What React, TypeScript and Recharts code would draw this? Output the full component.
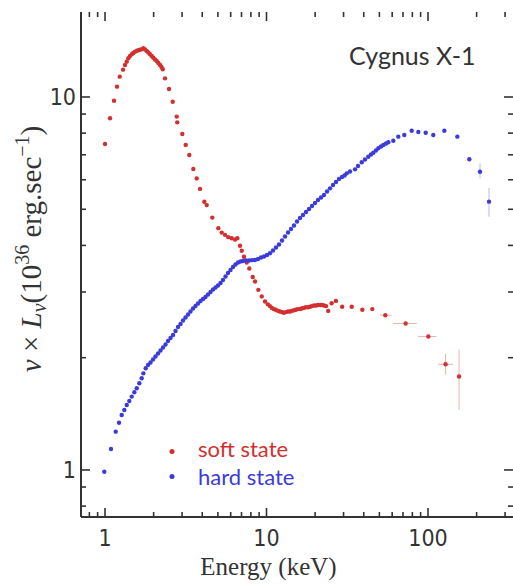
import React from "react";
import { ScatterChart, Scatter, XAxis, YAxis, ErrorBar, Customized } from "recharts";

// ---- data ----
const softE = [1.0, 1.074, 1.137, 1.187, 1.233, 1.293, 1.33, 1.363, 1.394, 1.428, 1.463, 1.497, 1.534, 1.578, 1.623, 1.671, 1.727, 1.769, 1.812, 1.854, 1.899, 1.946, 1.991, 2.04, 2.09, 2.138, 2.191, 2.238, 2.277, 2.353, 2.491, 2.626, 2.78, 2.8, 3.01, 3.16, 3.327, 3.522, 3.697, 3.875, 4.12, 4.263, 4.617, 5.03, 5.28, 5.534, 5.801, 6.09, 6.383, 6.596, 6.853, 7.021, 7.254, 7.54, 7.825, 8.215, 8.489, 8.897, 9.34, 9.789, 10.2, 10.5, 10.8, 11.1, 11.4, 11.8, 12.1, 12.5, 12.8, 13.2, 13.6, 14.0, 14.3, 14.8, 15.2, 15.6, 16.1, 16.5, 17.0, 17.5, 18.1, 18.6, 19.1, 19.7, 20.3, 20.8, 21.5, 22.1, 22.7, 23.4, 24.1, 25.3, 26.9, 29.4, 33.7, 39.2, 45.2, 54.4, 72.7, 100.5, 128.5, 155.7];
const softL = [7.48, 8.77, 9.77, 10.66, 11.34, 11.84, 12.18, 12.44, 12.70, 12.88, 13.02, 13.12, 13.23, 13.30, 13.37, 13.41, 13.51, 13.41, 13.29, 13.17, 13.02, 12.88, 12.75, 12.61, 12.49, 12.34, 12.18, 12.03, 11.87, 11.22, 10.51, 9.71, 8.86, 8.55, 7.96, 7.44, 6.99, 6.41, 6.05, 5.67, 5.24, 5.13, 4.75, 4.45, 4.33, 4.27, 4.21, 4.18, 4.15, 4.18, 3.99, 3.87, 3.73, 3.60, 3.47, 3.29, 3.20, 3.04, 2.92, 2.83, 2.78, 2.75, 2.72, 2.70, 2.69, 2.67, 2.66, 2.65, 2.64, 2.65, 2.66, 2.66, 2.67, 2.68, 2.69, 2.70, 2.70, 2.71, 2.72, 2.73, 2.73, 2.74, 2.75, 2.76, 2.76, 2.77, 2.77, 2.77, 2.76, 2.75, 2.67, 2.80, 2.84, 2.74, 2.74, 2.69, 2.70, 2.60, 2.47, 2.28, 1.92, 1.78];

const hardE = [0.99, 1.089, 1.165, 1.221, 1.269, 1.317, 1.363, 1.414, 1.463, 1.519, 1.572, 1.631, 1.687, 1.727, 1.786, 1.846, 1.913, 1.983, 2.054, 2.129, 2.207, 2.287, 2.37, 2.455, 2.545, 2.637, 2.733, 2.831, 2.935, 3.041, 3.151, 3.266, 3.384, 3.507, 3.634, 3.766, 3.903, 4.045, 4.191, 4.343, 4.501, 4.665, 4.834, 5.009, 5.191, 5.379, 5.574, 5.776, 5.985, 6.203, 6.427, 6.661, 6.902, 7.153, 7.465, 7.793, 8.133, 8.489, 8.86, 9.246, 9.65, 10.07, 10.51, 10.97, 11.45, 11.95, 12.47, 13.02, 13.59, 14.18, 14.8, 15.45, 16.12, 16.83, 17.57, 18.34, 19.13, 19.97, 20.84, 21.76, 22.7, 23.7, 24.73, 25.81, 26.93, 28.11, 29.34, 30.41, 31.38, 32.89, 35.32, 36.87, 38.87, 40.73, 42.69, 44.37, 45.85, 47.64, 49.24, 51.17, 52.88, 54.95, 56.79, 60.97, 65.48, 71.33, 79.27, 87.1, 96.78, 107.8, 126.2, 151.9, 180.2, 209.9, 238.7];
const hardL = [0.989, 1.138, 1.267, 1.339, 1.404, 1.448, 1.494, 1.531, 1.573, 1.616, 1.656, 1.708, 1.762, 1.816, 1.874, 1.912, 1.942, 1.978, 2.015, 2.053, 2.091, 2.13, 2.17, 2.217, 2.259, 2.301, 2.359, 2.417, 2.462, 2.516, 2.563, 2.611, 2.66, 2.71, 2.753, 2.795, 2.839, 2.873, 2.909, 2.954, 3.0, 3.047, 3.085, 3.123, 3.172, 3.231, 3.302, 3.374, 3.437, 3.501, 3.556, 3.6, 3.622, 3.634, 3.645, 3.645, 3.652, 3.656, 3.679, 3.713, 3.736, 3.771, 3.811, 3.878, 3.95, 4.024, 4.124, 4.227, 4.333, 4.426, 4.523, 4.636, 4.737, 4.826, 4.916, 5.008, 5.102, 5.197, 5.295, 5.377, 5.461, 5.579, 5.69, 5.808, 5.916, 6.027, 6.101, 6.157, 6.242, 6.311, 6.398, 6.531, 6.683, 6.799, 6.918, 7.012, 7.091, 7.188, 7.286, 7.368, 7.436, 7.505, 7.561, 7.635, 7.828, 7.908, 8.122, 8.056, 8.021, 7.908, 8.122, 7.828, 6.808, 6.305, 5.241];

// asymmetric error bars [minus, plus], keyed by energy
const softXErr: Record<string, [number, number]> = { "54.4": [4, 5], "72.7": [12, 12.5], "100.5": [13.6, 12.6], "128.5": [13.5, 14.5] };
const softYErr: Record<string, [number, number]> = { "128.5": [0.12, 0.13], "155.7": [0.33, 0.32] };
const hardYErr: Record<string, [number, number]> = { "209.9": [0.25, 0.33], "238.7": [0.47, 0.46] };

const xTicks = [0.8, 0.9, 1, 2, 3, 4, 5, 6, 7, 8, 9, 10, 20, 30, 40, 50, 60, 70, 80, 90, 100, 200, 300];
const xLabels = [1, 10, 100];
const yTicks = [0.8, 0.9, 1, 2, 3, 4, 5, 6, 7, 8, 9, 10];
const yLabels = [1, 10];

const X_DOMAIN: [number, number] = [0.71, 336];
const Y_DOMAIN: [number, number] = [0.748, 16.9];

const softData = softE.map((E, i) => ({ E, L: softL[i], ex: softXErr[String(E)], ey: softYErr[String(E)] }));
const hardData = hardE.map((E, i) => ({ E, L: hardL[i], ey: hardYErr[String(E)] }));

// tick marks placed on the frame edges through the chart's own scales
const bottomTicks = xTicks.map((E) => ({ E, L: Y_DOMAIN[0], major: xLabels.includes(E) }));
const topTicks = xTicks.map((E) => ({ E, L: Y_DOMAIN[1], major: xLabels.includes(E) }));
const leftTicks = yTicks.map((L) => ({ E: X_DOMAIN[0], L, major: yLabels.includes(L) }));
const rightTicks = yTicks.map((L) => ({ E: X_DOMAIN[1], L, major: yLabels.includes(L) }));

const RED = "#d42f2f";
const BLUE = "#3b3bdc";
const AXIS = "#333";
const TICKFONT = "'Liberation Sans Narrow', 'DejaVu Sans Condensed', Lato, sans-serif";

const tickMark = (dx: number, dy: number) => (props: any) => {
  const { cx, cy, payload } = props;
  const len = payload && payload.major ? 9 : 5;
  return <line x1={cx} y1={cy} x2={cx + dx * len} y2={cy + dy * len} stroke={AXIS} strokeWidth={1.6} />;
};

const makeLabel = (side: "bottom" | "left", labels: number[]) => (props: any) => {
  const { x, y, payload } = props;
  const v = payload.value;
  if (!labels.includes(v)) return <g />;
  return side === "bottom" ? (
    <text x={x} y={y + 29} textAnchor="middle" fontFamily={TICKFONT} fontSize={23} fill={AXIS}>{v}</text>
  ) : (
    <text x={x - 5} y={y + 8} textAnchor="end" fontFamily={TICKFONT} fontSize={23} fill={AXIS}>{v}</text>
  );
};

const dot = (color: string) => (props: any) => <circle cx={props.cx} cy={props.cy} r={2.2} fill={color} />;

const Overlay = () => (
  <g>
    <text x={349} y={65} fontFamily="Lato, sans-serif" fontSize={25} fill={AXIS}>Cygnus X-1</text>
    <circle cx={172} cy={451.5} r={2.5} fill={RED} />
    <text x={198} y={456.5} fontFamily="Lato, sans-serif" fontSize={22} fill={RED}>soft state</text>
    <circle cx={172} cy={476.5} r={2.5} fill={BLUE} />
    <text x={198} y={484.5} fontFamily="Lato, sans-serif" fontSize={22} fill={BLUE}>hard state</text>
    <text x={268.5} y={575} textAnchor="middle" fontFamily="'Liberation Serif', serif" fontSize={25} fill={AXIS}>Energy (keV)</text>
    <text transform="rotate(-90, 41, 249)" x={41} y={249} textAnchor="middle" fontFamily="'Liberation Serif', serif" fontSize={29} fill={AXIS}>
      <tspan fontStyle="italic">ν</tspan>
      <tspan>{" × "}</tspan>
      <tspan fontStyle="italic">L</tspan>
      <tspan fontStyle="italic" fontSize={20} dy={5}>ν</tspan>
      <tspan dy={-5}>(10</tspan>
      <tspan fontSize={20} dy={-12}>36</tspan>
      <tspan dy={12}>{" erg.sec"}</tspan>
      <tspan fontSize={20} dy={-12}>−1</tspan>
      <tspan dy={12}>)</tspan>
    </text>
  </g>
);

export default function App() {
  return (
    <div style={{ position: "absolute", left: 0, top: 0, background: "#fff" }}>
      <ScatterChart width={513} height={585} margin={{ top: 12, right: 0, bottom: 0, left: 0 }}>
        <XAxis
          dataKey="E"
          type="number"
          scale="log"
          domain={X_DOMAIN}
          allowDataOverflow
          ticks={xTicks}
          interval={0}
          height={68}
          tickSize={0}
          tickMargin={0}
          tickLine={false}
          axisLine={{ stroke: AXIS, strokeWidth: 2 }}
          tick={makeLabel("bottom", xLabels)}
        />
        <XAxis
          xAxisId="top"
          orientation="top"
          type="number"
          scale="log"
          domain={X_DOMAIN}
          allowDataOverflow
          height={0}
          tick={false}
          tickLine={false}
          axisLine={{ stroke: AXIS, strokeWidth: 2 }}
        />
        <YAxis
          dataKey="L"
          type="number"
          scale="log"
          domain={Y_DOMAIN}
          allowDataOverflow
          ticks={yTicks}
          interval={0}
          width={81}
          tickSize={0}
          tickMargin={0}
          tickLine={false}
          axisLine={{ stroke: AXIS, strokeWidth: 2 }}
          tick={makeLabel("left", yLabels)}
        />
        <Scatter data={bottomTicks} isAnimationActive={false} shape={tickMark(0, -1)} />
        <Scatter data={topTicks} isAnimationActive={false} shape={tickMark(0, 1)} />
        <Scatter data={leftTicks} isAnimationActive={false} shape={tickMark(1, 0)} />
        <Scatter data={rightTicks} isAnimationActive={false} shape={tickMark(-1, 0)} />
        <Scatter data={softData} isAnimationActive={false} shape={dot(RED)}>
          <ErrorBar dataKey="ex" direction="x" width={0} stroke="#eab2b2" strokeWidth={1} />
          <ErrorBar dataKey="ey" direction="y" width={0} stroke="#eab2b2" strokeWidth={1} />
        </Scatter>
        <Scatter data={hardData} isAnimationActive={false} shape={dot(BLUE)}>
          <ErrorBar dataKey="ey" direction="y" width={0} stroke="#b8b8ee" strokeWidth={1} />
        </Scatter>
        <Customized component={Overlay} />
      </ScatterChart>
    </div>
  );
}
